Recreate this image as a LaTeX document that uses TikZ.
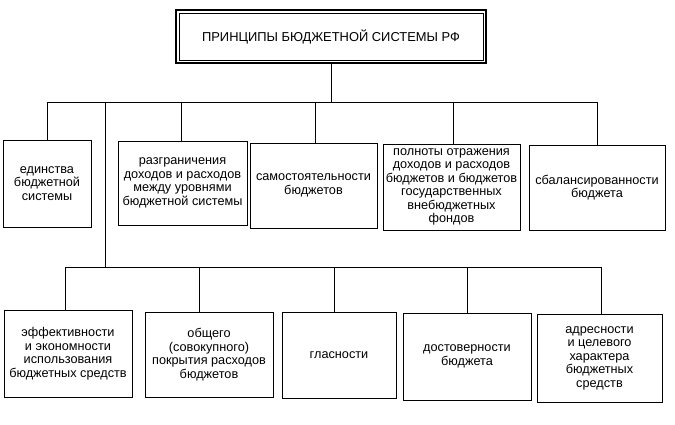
\documentclass[tikz,border=0pt]{standalone}
\usepackage{fontspec}
\setmainfont{Liberation Sans}
\usepackage{tikz}
\usetikzlibrary{calc, positioning}

\begin{document}
\begin{tikzpicture}[x=1pt,y=-1pt,
    pbox/.style={draw, line width=0.9pt, align=center, inner sep=0pt,
        font=\fontsize{12.7}{13.5}\selectfont},
    link/.style={line width=0.9pt}]
    \useasboundingbox (0,0) rectangle (675,424);
    % title
    \node[draw, line width=2pt, minimum width=310pt, minimum height=53pt, inner sep=0pt,
        font=\fontsize{12.9}{15}\selectfont] (tit) at (331,36.5) {ПРИНЦИПЫ БЮДЖЕТНОЙ СИСТЕМЫ РФ};
    \draw[line width=0.7pt] ([shift={(4,4)}]tit.north west) rectangle ([shift={(-4,-4)}]tit.south east);
    % first row
    \node[pbox, minimum width=88pt, minimum height=87pt] (e1) at (47,183.5) {единства\\бюджетной\\системы};
    \node[pbox, minimum width=129pt, minimum height=84pt] (e2) at (182.5,183) {разграничения\\доходов и расходов\\между уровнями\\бюджетной системы};
    \node[pbox, minimum width=127pt, minimum height=85pt] (e3) at (313.5,185.5) {самостоятельности\\бюджетов};
    \node[pbox, minimum width=137pt, minimum height=86pt] (e4) at (451.5,187) {полноты отражения\\доходов и расходов\\бюджетов и бюджетов\\государственных\\внебюджетных\\фондов};
    \node[pbox, minimum width=136pt, minimum height=85pt] (e5) at (597,187.5) {сбалансированности\\бюджета};
    % second row
    \node[pbox, minimum width=128pt, minimum height=87pt] (f1) at (68,353.5) {эффективности\\и экономности\\использования\\бюджетных средств};
    \node[pbox, minimum width=128pt, minimum height=85pt] (f2) at (209,354.5) {общего\\(совокупного)\\покрытия расходов\\бюджетов};
    \node[pbox, minimum width=114pt, minimum height=86pt] (f3) at (339,355) {гласности};
    \node[pbox, minimum width=128pt, minimum height=87pt] (f4) at (467,356.5) {достоверности\\бюджета};
    \node[pbox, minimum width=125pt, minimum height=88pt] (f5) at (599.5,358) {адресности\\и целевого\\характера\\бюджетных\\средств};
    % upper bus
    \coordinate (a1) at (47,102);
    \coordinate (a2) at (105,102);
    \coordinate (a3) at (181,102);
    \coordinate (a4) at (315,102);
    \coordinate (a5) at (453,102);
    \coordinate (a6) at (597,102);
    \draw[link] (tit.south) -- (tit.south |- a1);
    \draw[link] (a1) -- (a6);
    \draw[link] (a1) -- (a1 |- e1.north);
    \draw[link] (a3) -- (a3 |- e2.north);
    \draw[link] (a4) -- (a4 |- e3.north);
    \draw[link] (a5) -- (a5 |- e4.north);
    \draw[link] (a6) -- (a6 |- e5.north);
    % lower bus
    \coordinate (b1) at (65,267);
    \coordinate (b2) at (199,267);
    \coordinate (b3) at (334,267);
    \coordinate (b4) at (467,267);
    \coordinate (b5) at (601,267);
    \draw[link] (a2) -- (a2 |- b1);
    \draw[link] (b1) -- (b5);
    \draw[link] (b1) -- (b1 |- f1.north);
    \draw[link] (b2) -- (b2 |- f2.north);
    \draw[link] (b3) -- (b3 |- f3.north);
    \draw[link] (b4) -- (b4 |- f4.north);
    \draw[link] (b5) -- (b5 |- f5.north);
\end{tikzpicture}
\end{document}
